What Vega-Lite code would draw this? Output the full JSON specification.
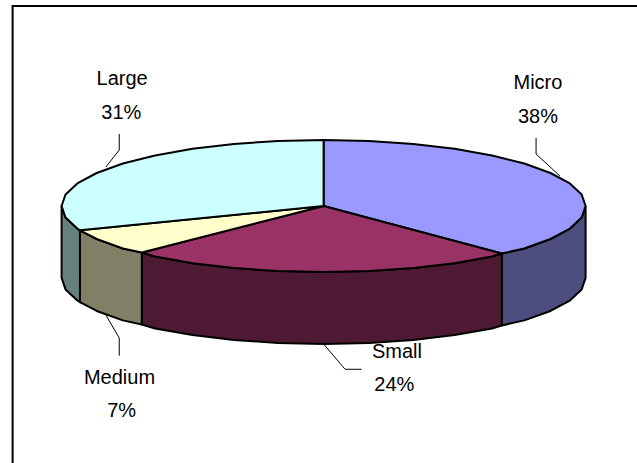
{"$schema":"https://vega.github.io/schema/vega-lite/v6.json","width":637,"height":463,"padding":0,"autosize":{"type":"fit","contains":"padding"},"background":"white","view":{"stroke":null},
"datasets":{"outline":[
{"p":"Micro side","x":1,"y":0},{"p":"Micro side","x":0.985,"y":-0.174},{"p":"Micro side","x":0.94,"y":-0.342},{"p":"Micro side","x":0.866,"y":-0.5},{"p":"Micro side","x":0.766,"y":-0.643},{"p":"Micro side","x":0.68,"y":-0.72},{"p":"Micro side","x":0.68,"y":-1.81},{"p":"Micro side","x":0.766,"y":-1.733},{"p":"Micro side","x":0.866,"y":-1.59},{"p":"Micro side","x":0.94,"y":-1.432},{"p":"Micro side","x":0.985,"y":-1.264},{"p":"Micro side","x":1,"y":-1.09},{"p":"Micro side","x":1,"y":0},
{"p":"Small side","x":0.68,"y":-0.72},{"p":"Small side","x":0.643,"y":-0.766},{"p":"Small side","x":0.5,"y":-0.866},{"p":"Small side","x":0.342,"y":-0.94},{"p":"Small side","x":0.174,"y":-0.985},{"p":"Small side","x":0,"y":-1},{"p":"Small side","x":-0.174,"y":-0.985},{"p":"Small side","x":-0.342,"y":-0.94},{"p":"Small side","x":-0.5,"y":-0.866},{"p":"Small side","x":-0.643,"y":-0.766},{"p":"Small side","x":-0.694,"y":-0.705},{"p":"Small side","x":-0.694,"y":-1.795},{"p":"Small side","x":-0.643,"y":-1.856},{"p":"Small side","x":-0.5,"y":-1.956},{"p":"Small side","x":-0.342,"y":-2.03},{"p":"Small side","x":-0.174,"y":-2.075},{"p":"Small side","x":0,"y":-2.09},{"p":"Small side","x":0.174,"y":-2.075},{"p":"Small side","x":0.342,"y":-2.03},{"p":"Small side","x":0.5,"y":-1.956},{"p":"Small side","x":0.643,"y":-1.856},{"p":"Small side","x":0.68,"y":-1.81},{"p":"Small side","x":0.68,"y":-0.72},
{"p":"Medium side","x":-0.694,"y":-0.705},{"p":"Medium side","x":-0.766,"y":-0.643},{"p":"Medium side","x":-0.866,"y":-0.5},{"p":"Medium side","x":-0.93,"y":-0.368},{"p":"Medium side","x":-0.93,"y":-1.458},{"p":"Medium side","x":-0.866,"y":-1.59},{"p":"Medium side","x":-0.766,"y":-1.733},{"p":"Medium side","x":-0.694,"y":-1.795},{"p":"Medium side","x":-0.694,"y":-0.705},
{"p":"Large side","x":-0.93,"y":-0.368},{"p":"Large side","x":-0.94,"y":-0.342},{"p":"Large side","x":-0.985,"y":-0.174},{"p":"Large side","x":-1,"y":0},{"p":"Large side","x":-1,"y":-1.09},{"p":"Large side","x":-0.985,"y":-1.264},{"p":"Large side","x":-0.94,"y":-1.432},{"p":"Large side","x":-0.93,"y":-1.458},{"p":"Large side","x":-0.93,"y":-0.368},
{"p":"Micro","x":0,"y":0},{"p":"Micro","x":0,"y":1},{"p":"Micro","x":0.174,"y":0.985},{"p":"Micro","x":0.342,"y":0.94},{"p":"Micro","x":0.5,"y":0.866},{"p":"Micro","x":0.643,"y":0.766},{"p":"Micro","x":0.766,"y":0.643},{"p":"Micro","x":0.866,"y":0.5},{"p":"Micro","x":0.94,"y":0.342},{"p":"Micro","x":0.985,"y":0.174},{"p":"Micro","x":1,"y":0},{"p":"Micro","x":0.985,"y":-0.174},{"p":"Micro","x":0.94,"y":-0.342},{"p":"Micro","x":0.866,"y":-0.5},{"p":"Micro","x":0.766,"y":-0.643},{"p":"Micro","x":0.68,"y":-0.72},{"p":"Micro","x":0,"y":0},
{"p":"Small","x":0,"y":0},{"p":"Small","x":0.68,"y":-0.72},{"p":"Small","x":0.643,"y":-0.766},{"p":"Small","x":0.5,"y":-0.866},{"p":"Small","x":0.342,"y":-0.94},{"p":"Small","x":0.174,"y":-0.985},{"p":"Small","x":0,"y":-1},{"p":"Small","x":-0.174,"y":-0.985},{"p":"Small","x":-0.342,"y":-0.94},{"p":"Small","x":-0.5,"y":-0.866},{"p":"Small","x":-0.643,"y":-0.766},{"p":"Small","x":-0.694,"y":-0.705},{"p":"Small","x":0,"y":0},
{"p":"Medium","x":0,"y":0},{"p":"Medium","x":-0.694,"y":-0.705},{"p":"Medium","x":-0.766,"y":-0.643},{"p":"Medium","x":-0.866,"y":-0.5},{"p":"Medium","x":-0.93,"y":-0.368},{"p":"Medium","x":0,"y":0},
{"p":"Large","x":0,"y":0},{"p":"Large","x":-0.93,"y":-0.368},{"p":"Large","x":-0.94,"y":-0.342},{"p":"Large","x":-0.985,"y":-0.174},{"p":"Large","x":-1,"y":0},{"p":"Large","x":-0.985,"y":0.174},{"p":"Large","x":-0.94,"y":0.342},{"p":"Large","x":-0.866,"y":0.5},{"p":"Large","x":-0.766,"y":0.643},{"p":"Large","x":-0.643,"y":0.766},{"p":"Large","x":-0.5,"y":0.866},{"p":"Large","x":-0.342,"y":0.94},{"p":"Large","x":-0.174,"y":0.985},{"p":"Large","x":0,"y":1},{"p":"Large","x":0,"y":0}
],
"leaders":[
{"name":"Large","x":-0.78,"y":1.091},{"name":"Large","x":-0.78,"y":0.848},{"name":"Large","x":-0.831,"y":0.591},
{"name":"Micro","x":0.811,"y":1.03},{"name":"Micro","x":0.811,"y":0.788},{"name":"Micro","x":0.902,"y":0.455},
{"name":"Medium","x":-0.831,"y":-1.652},{"name":"Medium","x":-0.78,"y":-2.0},{"name":"Medium","x":-0.78,"y":-2.268},
{"name":"Small","x":0,"y":-2.091},{"name":"Small","x":0.082,"y":-2.474},{"name":"Small","x":0.145,"y":-2.474}
],
"labels":[
{"name":"Micro","share":0.38,"nx":0.818,"ny":1.868,"sx":0.818,"sy":1.353},
{"name":"Small","share":0.24,"nx":0.28,"ny":-2.208,"sx":0.27,"sy":-2.712},
{"name":"Medium","share":0.07,"nx":-0.779,"ny":-2.611,"sx":-0.771,"sy":-3.102},
{"name":"Large","share":0.31,"nx":-0.769,"ny":1.924,"sx":-0.772,"sy":1.414}
],
"frame":[{"x":-1.187,"x2":1.3,"y":3.03,"y2":-4.2}]},
"layer":[
{"data":{"name":"frame"},"mark":{"type":"rect","fill":"white","stroke":"black","strokeWidth":2,"clip":true},
"encoding":{"x":{"field":"x","type":"quantitative","scale":{"domain":[-1.2351,1.1962],"nice":false,"zero":false},"axis":null},"x2":{"field":"x2"},"y":{"field":"y","type":"quantitative","scale":{"domain":[-3.8939,3.1212],"nice":false,"zero":false},"axis":null},"y2":{"field":"y2"}}},
{"data":{"name":"outline"},"mark":{"type":"line","stroke":"black","strokeWidth":2,"strokeJoin":"round"},
"encoding":{"x":{"field":"x","type":"quantitative","scale":{"domain":[-1.2351,1.1962],"nice":false,"zero":false},"axis":null},"y":{"field":"y","type":"quantitative","scale":{"domain":[-3.8939,3.1212],"nice":false,"zero":false},"axis":null},"fill":{"field":"p","type":"nominal","legend":null,"scale":{"domain":["Micro","Small","Medium","Large","Micro side","Small side","Medium side","Large side"],"range":["#9999ff","#993366","#ffffcc","#ccffff","#4d4d80","#4d1933","#808066","#668080"]}},"order":{"value":null}}},
{"data":{"name":"leaders"},"mark":{"type":"line","stroke":"black","strokeWidth":1},
"encoding":{"x":{"field":"x","type":"quantitative","axis":null},"y":{"field":"y","type":"quantitative","axis":null},"detail":{"field":"name"},"order":{"value":null}}},
{"data":{"name":"labels"},"mark":{"type":"text","font":"Liberation Sans","fontSize":20,"color":"black","align":"center","baseline":"middle"},
"encoding":{"x":{"field":"nx","type":"quantitative","axis":null},"y":{"field":"ny","type":"quantitative","axis":null},"text":{"field":"name"}}},
{"data":{"name":"labels"},"mark":{"type":"text","font":"Liberation Sans","fontSize":20,"color":"black","align":"center","baseline":"middle"},
"encoding":{"x":{"field":"sx","type":"quantitative","axis":null},"y":{"field":"sy","type":"quantitative","axis":null},"text":{"field":"share","format":".0%"}}}
]}
